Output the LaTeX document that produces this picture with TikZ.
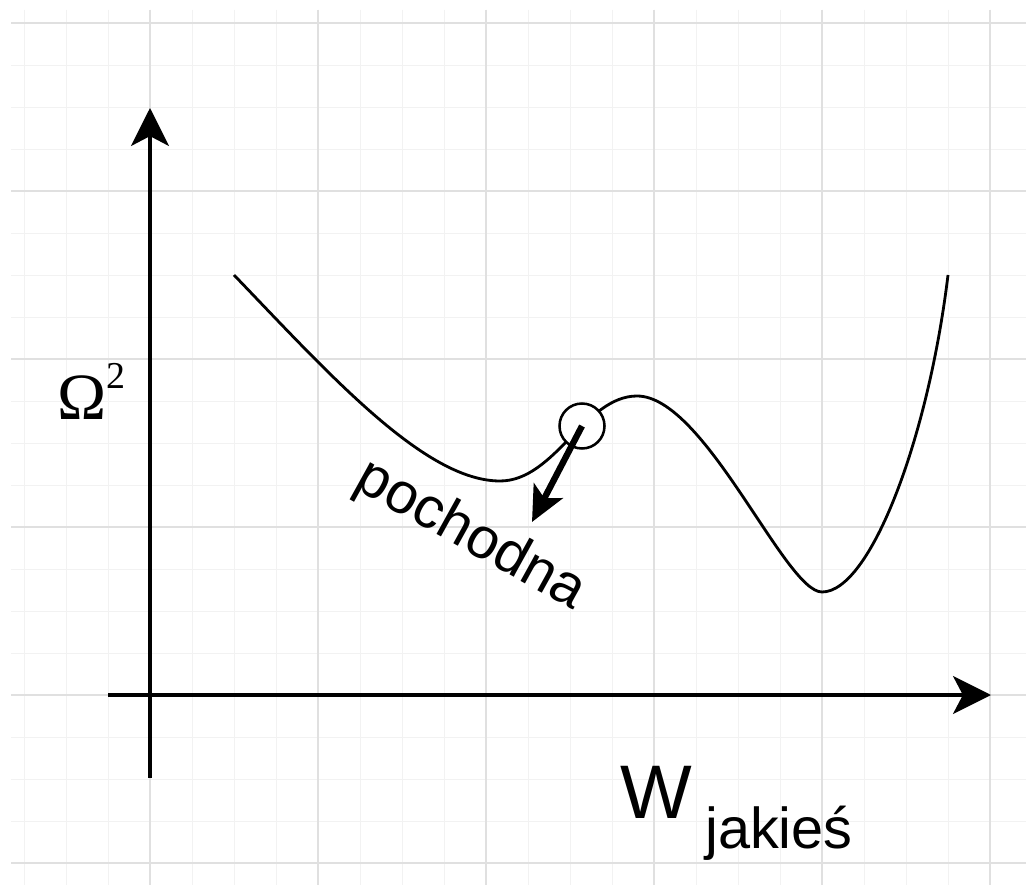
\documentclass[tikz,border=0pt]{standalone}
\usepackage{fontspec}
\setmainfont{Liberation Sans}
\newfontfamily\omegafont{Liberation Serif}
\usetikzlibrary{arrows.meta,positioning}

\begin{document}
\begin{tikzpicture}[x=0.025cm, y=-0.025cm,
    minorGrid/.style={draw=black!5, line width=0.7pt},
    majorGrid/.style={draw=black!12, line width=0.8pt},
    axis/.style={-{Stealth[length=27pt, width=27pt, inset=7pt]}, line width=2.6pt},
    costCurve/.style={line width=2pt, line join=round},
    probe/.style={circle, draw, fill=white, line width=1.8pt, minimum size=32pt, inner sep=0pt},
    slope/.style={-{Stealth[length=25pt, width=23pt, inset=6pt]}, line width=4.5pt},
    axisLabel/.style={inner sep=0pt, anchor=base west}
  ]
  \useasboundingbox (0,0) rectangle (1026,885);
  \fill[white] (0,0) rectangle (1026,885);

  % grid
  \foreach \gx in {24,66,...,1016} \draw[minorGrid] (\gx,10) -- (\gx,885);
  \foreach \gy in {23,65,...,885} \draw[minorGrid] (11,\gy) -- (1026,\gy);
  \foreach \gx in {150,318,...,990} \draw[majorGrid] (\gx,10) -- (\gx,885);
  \foreach \gy in {23,191,...,863} \draw[majorGrid] (11,\gy) -- (1026,\gy);

  % axes
  \coordinate (yBottom) at (150,778);
  \coordinate (yTop) at (150,108);
  \coordinate (xLeft) at (108,695);
  \coordinate (xRight) at (991,695);
  \draw[axis] (yBottom) -- (yTop);
  \draw[axis] (xLeft) -- (xRight);

  % cost curve
  \coordinate (curveStart) at (234,275);
  \coordinate (localMin) at (500,481);
  \coordinate (localMax) at (637,396);
  \coordinate (globalMin) at (822,592);
  \coordinate (curveEnd) at (948,275);
  \draw[costCurve] (curveStart) .. controls (330,375) and (425,481) .. (localMin)
    .. controls (555,481) and (585,396) .. (localMax)
    .. controls (705,396) and (785,592) .. (globalMin)
    .. controls (870,592) and (928,440) .. (curveEnd);

  \node[probe] (ball) at (582,426) {};
  \coordinate (slopeTip) at (532,522);
  \draw[slope] (ball.center) -- (slopeTip);
  \node[rotate=-29, font=\fontsize{41}{41}\selectfont] (slopeLabel) at (470,536) {pochodna};

  \node[axisLabel] (omegaLabel) at (57,419) {\omegafont\fontsize{47}{47}\selectfont Ω\raisebox{22pt}{\fontsize{27}{27}\selectfont 2}};
  \node[axisLabel, font=\fontsize{54}{54}\selectfont] (wLabel) at (620,818) {W};
  \node[axisLabel, font=\fontsize{41}{41}\selectfont] (wSub) at (705,848) {jakieś};
\end{tikzpicture}
\end{document}
